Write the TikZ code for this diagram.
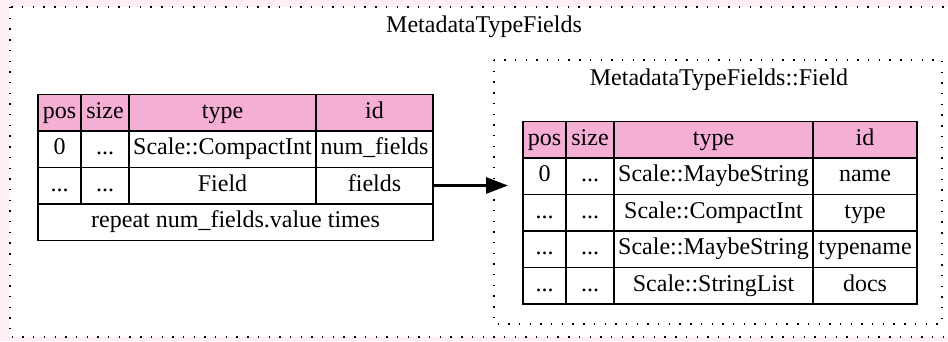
\documentclass[tikz,border=0pt]{standalone}
\usepackage{fontspec}
\setmainfont{Liberation Serif}
\usetikzlibrary{arrows.meta}
\definecolor{bgpink}{HTML}{FFF0F5}
\definecolor{headpink}{HTML}{F5AED4}
\begin{document}
\begin{tikzpicture}[x=1pt,y=-1pt,
    cell/.style={draw,line width=1.5pt,inner sep=0pt,minimum height=36.5pt,
      text height=16pt,text depth=5pt,font=\fontsize{24}{28}\selectfont},
    head/.style={cell,fill=headpink},
    cluster/.style={draw,line width=1.4pt,dash pattern=on 1.4pt off 9.3pt},
    title/.style={font=\fontsize{24}{28}\selectfont},
    link/.style={line width=2.8pt,-{Triangle[length=22pt,width=16pt]}}]
    \fill[bgpink] (0,0) rectangle (948,341);
    \clip (0,0) rectangle (948,341);
    % clusters
    \filldraw[cluster,fill=white] (10,7) rectangle (960,337);
    \node[title] (outertitle) at (484,27) {MetadataTypeFields};
    \draw[cluster] (494,60) rectangle (942,324);
    \node[title] (innertitle) at (719,80) {MetadataTypeFields::Field};

    % MetadataTypeFields
    \node[head,minimum width=43pt] (lpos) at (59.5,112.5) {pos};
    \node[head,minimum width=48pt] (lsize) at (105,112.5) {size};
    \node[head,minimum width=187pt] (ltype) at (222.5,112.5) {type};
    \node[head,minimum width=117pt] (lid) at (374.5,112.5) {id};

    \node[cell,minimum width=43pt] (lpos1) at (59.5,149) {0};
    \node[cell,minimum width=48pt] (lsize1) at (105,149) {...};
    \node[cell,minimum width=187pt] (ltype1) at (222.5,149) {Scale::CompactInt};
    \node[cell,minimum width=117pt] (lid1) at (374.5,149) {num\_fields};

    \node[cell,minimum width=43pt] (lpos2) at (59.5,185.5) {...};
    \node[cell,minimum width=48pt] (lsize2) at (105,185.5) {...};
    \node[cell,minimum width=187pt] (ltype2) at (222.5,185.5) {Field};
    \node[cell,minimum width=117pt] (lid2) at (374.5,185.5) {fields};

    \node[cell,minimum width=395pt] (lrepeat) at (235.5,222) {repeat num\_fields.value times};

    % MetadataTypeFields::Field
    \node[head,minimum width=43pt] (rpos) at (544.5,139.5) {pos};
    \node[head,minimum width=48pt] (rsize) at (590,139.5) {size};
    \node[head,minimum width=199pt] (rtype) at (713.5,139.5) {type};
    \node[head,minimum width=104pt] (rid) at (865,139.5) {id};

    \node[cell,minimum width=43pt] (rpos1) at (544.5,176) {0};
    \node[cell,minimum width=48pt] (rsize1) at (590,176) {...};
    \node[cell,minimum width=199pt] (rtype1) at (713.5,176) {Scale::MaybeString};
    \node[cell,minimum width=104pt] (rid1) at (865,176) {name};

    \node[cell,minimum width=43pt] (rpos2) at (544.5,212.5) {...};
    \node[cell,minimum width=48pt] (rsize2) at (590,212.5) {...};
    \node[cell,minimum width=199pt] (rtype2) at (713.5,212.5) {Scale::CompactInt};
    \node[cell,minimum width=104pt] (rid2) at (865,212.5) {type};

    \node[cell,minimum width=43pt] (rpos3) at (544.5,249) {...};
    \node[cell,minimum width=48pt] (rsize3) at (590,249) {...};
    \node[cell,minimum width=199pt] (rtype3) at (713.5,249) {Scale::MaybeString};
    \node[cell,minimum width=104pt] (rid3) at (865,249) {typename};

    \node[cell,minimum width=43pt] (rpos4) at (544.5,285.5) {...};
    \node[cell,minimum width=48pt] (rsize4) at (590,285.5) {...};
    \node[cell,minimum width=199pt] (rtype4) at (713.5,285.5) {Scale::StringList};
    \node[cell,minimum width=104pt] (rid4) at (865,285.5) {docs};

    \coordinate (fieldtip) at (508,185.5);
    \draw[link] (lid2.east) -- (fieldtip);
\end{tikzpicture}
\end{document}
